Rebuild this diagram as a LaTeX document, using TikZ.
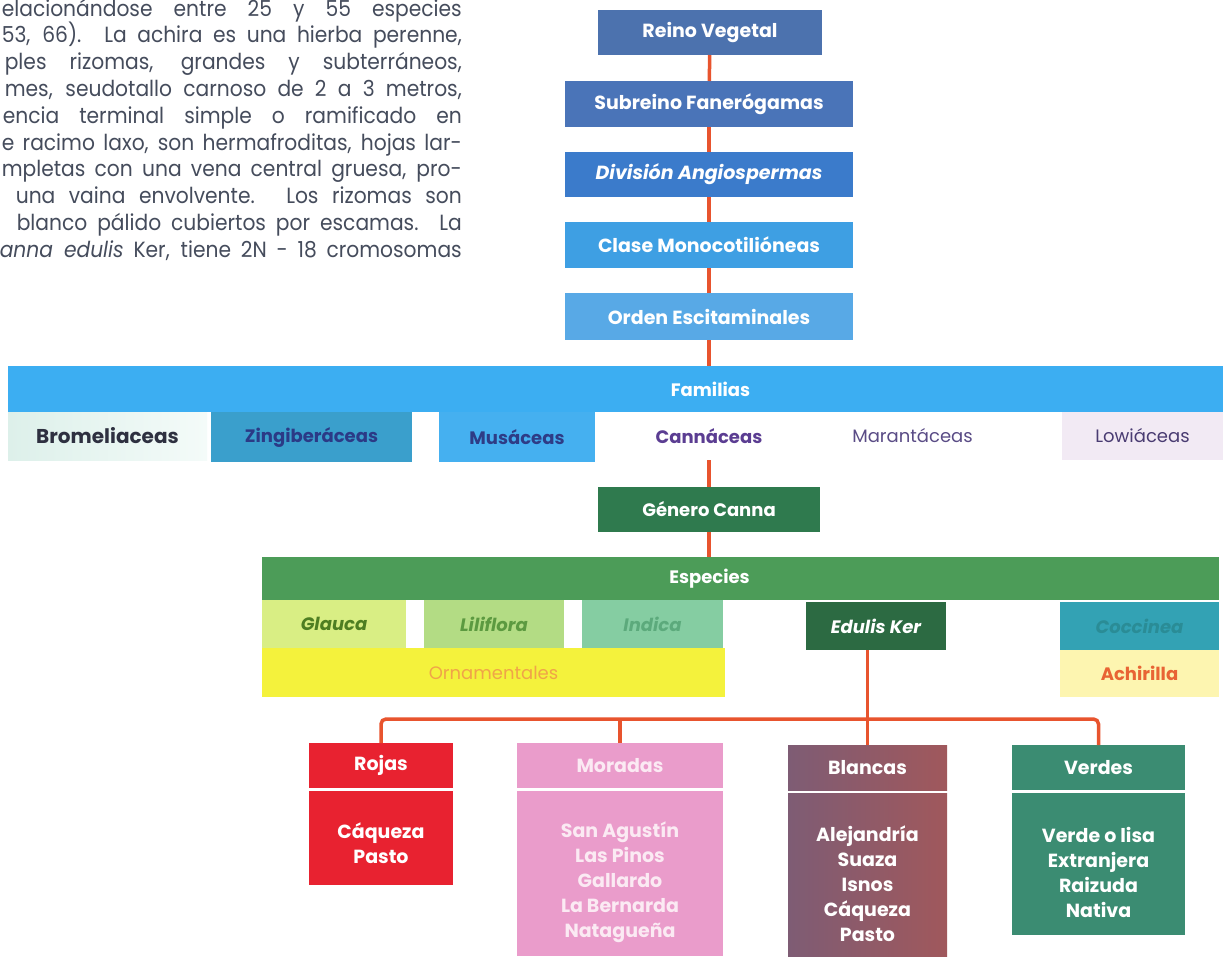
\documentclass[tikz,border=0pt]{standalone}
\usepackage{fontspec}
\usepackage{graphicx}
\setmainfont{Poppins}
\newcommand\myfs[1]{\fontsize{#1}{#1}\selectfont}
\newcommand\pline[2]{\scalebox{0.92}[1]{\makebox[\dimexpr#1pt*100/92\relax][s]{#2}}}
\definecolor{paraC}{HTML}{454C5C}
\definecolor{reinoC}{HTML}{4C72AE}
\definecolor{subC}{HTML}{4A74B8}
\definecolor{divC}{HTML}{3B7BCB}
\definecolor{claseC}{HTML}{3E9FE3}
\definecolor{ordenC}{HTML}{58A9E6}
\definecolor{famC}{HTML}{3CAEF2}
\definecolor{bromL}{HTML}{DDF0EA}
\definecolor{bromR}{HTML}{F4FBF9}
\definecolor{zingC}{HTML}{3A9FCC}
\definecolor{musaC}{HTML}{45B0F0}
\definecolor{lowiC}{HTML}{F2EAF4}
\definecolor{generoC}{HTML}{2F7A4E}
\definecolor{especC}{HTML}{4C9C58}
\definecolor{glaucaC}{HTML}{D9EE84}
\definecolor{liliC}{HTML}{B3DC84}
\definecolor{indicaC}{HTML}{85CDA2}
\definecolor{edulisC}{HTML}{2C6A42}
\definecolor{coccC}{HTML}{33A2B4}
\definecolor{ornamC}{HTML}{F4F23C}
\definecolor{achirC}{HTML}{FDF5B0}
\definecolor{lineC}{HTML}{E8542E}
\definecolor{rojasC}{HTML}{E82230}
\definecolor{moradC}{HTML}{EA9CCB}
\definecolor{blancL}{HTML}{7E5C74}
\definecolor{blancR}{HTML}{A0585C}
\definecolor{verdC}{HTML}{3B8C72}
\definecolor{tBrom}{HTML}{2E3040}
\definecolor{tZing}{HTML}{2B3A86}
\definecolor{tMusa}{HTML}{2E3C86}
\definecolor{tCanna}{HTML}{5B3D92}
\definecolor{tMaran}{HTML}{5A4C86}
\definecolor{tLowi}{HTML}{4A3C72}
\definecolor{tGlauca}{HTML}{4E7E22}
\definecolor{tLili}{HTML}{5C9A40}
\definecolor{tIndica}{HTML}{5CAA7C}
\definecolor{tCocc}{HTML}{2A8C96}
\definecolor{tOrnam}{HTML}{F0A448}
\definecolor{tAchir}{HTML}{E86434}
\definecolor{tMorad}{HTML}{FBEAF3}
\begin{document}
\begin{tikzpicture}[x=1pt,y=-1pt,
  bx/.style n args={4}{inner sep=0pt,outer sep=0pt,minimum width={#3-#1},minimum height={#4-#2},at={({(#1+#3)/2},{(#2+#4)/2})}},
  topbox/.style={text=white,font=\myfs{19}\bfseries},
  famtext/.style={font=\myfs{18}\bfseries},
  sptext/.style={font=\myfs{18}\bfseries\itshape},
  bottext/.style={text=white,font=\fontsize{19}{25}\selectfont\bfseries,align=center},
  para/.style={anchor=base east,inner sep=0pt,text=paraC,font=\myfs{22}},
  redline/.style={draw=lineC,line width=3.5pt}
]
\useasboundingbox (0,0) rectangle (1223,956);
\clip (0,0) rectangle (1223,956);
\fill[white] (0,0) rectangle (1223,956);

% paragraph fragment
\node[para] (p1) at (462,16) {\pline{460}{elacionándose entre 25 y 55 especies}};
\node[para] (p2) at (462,42.8) {\pline{460}{53, 66). La achira es una hierba perenne,}};
\node[para] (p3) at (462,69.6) {\pline{457}{ples rizomas, grandes y subterráneos,}};
\node[para] (p4) at (462,96.4) {\pline{457}{mes, seudotallo carnoso de 2 a 3 metros,}};
\node[para] (p5) at (462,123.2) {\pline{459}{encia terminal simple o ramificado en}};
\node[para] (p6) at (462,150) {\pline{460}{e racimo laxo, son hermafroditas, hojas lar-}};
\node[para] (p7) at (462,176.8) {\pline{460}{mpletas con una vena central gruesa, pro-}};
\node[para] (p8) at (462,203.6) {\pline{446}{una vaina envolvente. Los rizomas son}};
\node[para] (p9) at (462,230.4) {\pline{445}{blanco pálido cubiertos por escamas. La}};
\node[para] (p10) at (462,257.2) {\pline{462}{\textit{anna edulis} Ker, tiene 2N - 18 cromosomas}};

% taxonomy chain
\node[bx={598}{10}{822}{55},fill=reinoC,topbox] (reino) {Reino Vegetal};
\node[bx={565}{81}{853}{127},fill=subC,topbox] (sub) {Subreino Fanerógamas};
\node[bx={565}{152}{853}{197},fill=divC,topbox,font=\myfs{19}\bfseries\itshape] (div) {División Angiospermas};
\node[bx={565}{222}{853}{268},fill=claseC,topbox] (clase) {Clase Monocotilióneas};
\node[bx={565}{293}{853}{340},fill=ordenC,topbox] (orden) {Orden Escitaminales};

% families
\node[bx={8}{366}{1223}{412},fill=famC,label={[text=white,font=\myfs{18}\bfseries,xshift=95pt]center:Familias}] (famil) {};
\node[bx={8}{412}{207}{460},left color=bromL,right color=bromR,text=tBrom,font=\myfs{20}\bfseries] (brom) {Bromeliaceas};
\node[bx={211}{412}{412}{462},fill=zingC,famtext,text=tZing] (zing) {Zingiberáceas};
\node[bx={439}{412}{595}{462},fill=musaC,famtext,text=tMusa] (musa) {Musáceas};
\node[bx={620}{412}{798}{460},famtext,text=tCanna] (canna) {Cannáceas};
\node[bx={830}{412}{995}{460},font=\myfs{18},text=tMaran] (maran) {Marantáceas};
\node[bx={1062}{412}{1223}{460},fill=lowiC,font=\myfs{18},text=tLowi] (lowi) {Lowiáceas};

% genus and species
\node[bx={598}{487}{820}{532},fill=generoC,topbox,font=\myfs{18}\bfseries] (genero) {Género Canna};
\node[bx={262}{557}{1219}{600},fill=especC,label={[text=white,font=\myfs{18}\bfseries,xshift=-31pt]center:Especies}] (espec) {};
\node[bx={262}{600}{406}{648},fill=glaucaC,sptext,text=tGlauca] (glauca) {Glauca};
\node[bx={424}{600}{564}{648},fill=liliC,sptext,text=tLili] (lili) {Liliflora};
\node[bx={582}{600}{723}{648},fill=indicaC,sptext,text=tIndica] (indica) {Indica};
\node[bx={262}{648}{725}{697},fill=ornamC,font=\myfs{18},text=tOrnam] (ornam) {Ornamentales};
\node[bx={806}{602}{946}{650},fill=edulisC,sptext,text=white] (edulis) {Edulis Ker};
\node[bx={1060}{602}{1219}{650},fill=coccC,sptext,text=tCocc] (cocc) {Coccinea};
\node[bx={1060}{650}{1219}{697},fill=achirC,font=\myfs{18}\bfseries,text=tAchir] (achir) {Achirilla};

% varieties
\node[bx={309}{743}{453}{788},fill=rojasC,bottext] (rojasH) {Rojas};
\node[bx={309}{791}{453}{885},fill=rojasC,label={[bottext,yshift=-5pt]center:Cáqueza\\Pasto}] (rojasB) {};
\node[bx={517}{743}{723}{788},fill=moradC,bottext,text=tMorad] (moradH) {Moradas};
\node[bx={517}{791}{723}{956},fill=moradC,label={[bottext,text=tMorad,yshift=-9pt]center:San Agustín\\Las Pinos\\Gallardo\\La Bernarda\\Natagueña}] (moradB) {};
\node[bx={788}{745}{947}{790},left color=blancL,right color=blancR,bottext] (blancH) {Blancas};
\node[bx={788}{793}{947}{956},left color=blancL,right color=blancR,label={[bottext,yshift=-9pt]center:Alejandría\\Suaza\\Isnos\\Cáqueza\\Pasto}] (blancB) {};
\node[bx={1012}{745}{1185}{790},fill=verdC,bottext] (verdH) {Verdes};
\node[bx={1012}{793}{1185}{935},fill=verdC,label={[bottext,yshift=-8pt]center:Verde o lisa\\Extranjera\\Raizuda\\Nativa}] (verdB) {};

% connectors
\draw[redline] (reino) -- (sub);
\draw[redline] (sub) -- (div);
\draw[redline] (div) -- (clase);
\draw[redline] (clase) -- (orden);
\draw[redline] (orden.south) -- (orden.south |- famil.north);
\draw[redline] (canna.south -| genero.north) -- (genero.north);
\draw[redline] (genero.south) -- (genero.south |- espec.north);
\coordinate (bus) at (0,719);
\draw[redline] (edulis.south -| blancH.north) -- (blancH.north);
\draw[redline,rounded corners=5pt] (rojasH.north) -- (rojasH.north |- bus) -- (verdH.north |- bus) -- (verdH.north);
\draw[redline] (moradH.north |- bus) -- (moradH.north);
\end{tikzpicture}
\end{document}
